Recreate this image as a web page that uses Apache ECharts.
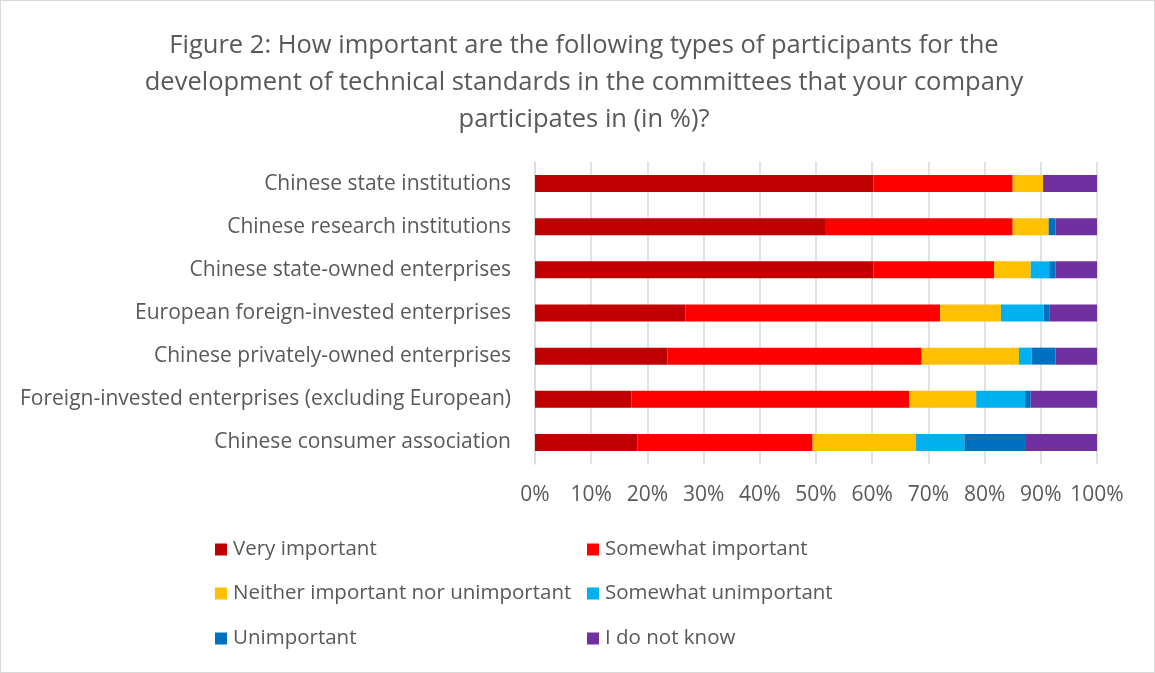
<!DOCTYPE html>
<html><head><meta charset="utf-8">
<script src="https://cdn.jsdelivr.net/npm/echarts@6/dist/echarts.min.js"></script>
<style>
html,body{margin:0;padding:0;background:#fff;}
#c{position:absolute;left:0;top:0;width:1153px;height:671px;border:1px solid #d9d9d9;}
</style></head><body>
<div id="c"></div>
<script>
const categories = [
  "Chinese state institutions",
  "Chinese research institutions",
  "Chinese state-owned enterprises",
  "European foreign-invested enterprises",
  "Chinese privately-owned enterprises",
  "Foreign-invested enterprises (excluding European)",
  "Chinese consumer association"
];
const seriesNames = ["Very important","Somewhat important","Neither important nor unimportant","Somewhat unimportant","Unimportant","I do not know"];
const veryImportant      = [60.2, 51.6, 60.2, 26.8, 23.6, 17.2, 18.2];
const somewhatImportant  = [24.8, 33.4, 21.5, 45.3, 45.2, 49.4, 31.2];
const neither            = [5.4, 6.4, 6.5, 10.8, 17.3, 11.9, 18.4];
const somewhatUnimportant= [0, 0, 3.3, 7.6, 2.3, 8.7, 8.6];
const unimportant        = [0, 1.2, 1.1, 1.0, 4.2, 1.0, 10.8];
const doNotKnow          = [9.6, 7.4, 7.4, 8.5, 7.4, 11.8, 12.8];
const xTicks = [0,10,20,30,40,50,60,70,80,90,100];

const colors = ["#c00000","#ff0000","#ffc000","#00b0f0","#0070c0","#7030a0"];
const values = [veryImportant, somewhatImportant, neither, somewhatUnimportant, unimportant, doNotKnow];
const FONT = "Open Sans";
const FS = 21;

const legendPos = [[214,538],[586,538],[214,582],[586,582],[214,627],[586,627]];
const legends = seriesNames.map((n,i)=>({
  data:[n], left:legendPos[i][0], top:legendPos[i][1], padding:0,
  itemWidth:12, itemHeight:12, itemGap:4, icon:'rect',
  textStyle:{color:'#595959', fontSize:20.5, fontFamily:FONT, padding:[0,0,0,1]},
  selectedMode:false
}));

const chart = echarts.init(document.getElementById('c'));
chart.setOption({
  animation:false,
  color:colors,
  title:{
    text:"Figure 2: How important are the following types of participants for the\ndevelopment of technical standards in the committees that your company\nparticipates in (in %)?",
    left:578, top:21, textAlign:'center',
    textStyle:{color:'#595959', fontSize:25.5, fontWeight:'normal', fontFamily:FONT, lineHeight:37, align:'center'}
  },
  legend:legends,
  grid:{left:534, right:57, top:161, height:302, containLabel:false},
  xAxis:{
    type:'value', min:0, max:100, interval:10,
    axisLabel:{formatter:v=>v+'%', color:'#595959', fontSize:FS, fontFamily:FONT, margin:21},
    splitLine:{lineStyle:{color:'#d9d9d9', width:1.5}},
    axisLine:{show:false}, axisTick:{show:false}
  },
  yAxis:{
    type:'category', data:categories, inverse:true,
    axisLabel:{color:'#595959', fontSize:FS, fontFamily:FONT, margin:24},
    axisLine:{lineStyle:{color:'#d9d9d9', width:1.5}}, axisTick:{show:false}
  },
  series:values.map((d,i)=>({
    name:seriesNames[i], type:'bar', stack:'total', data:d, barWidth:17,
    itemStyle:{color:colors[i]}
  }))
});
</script>
</body></html>
